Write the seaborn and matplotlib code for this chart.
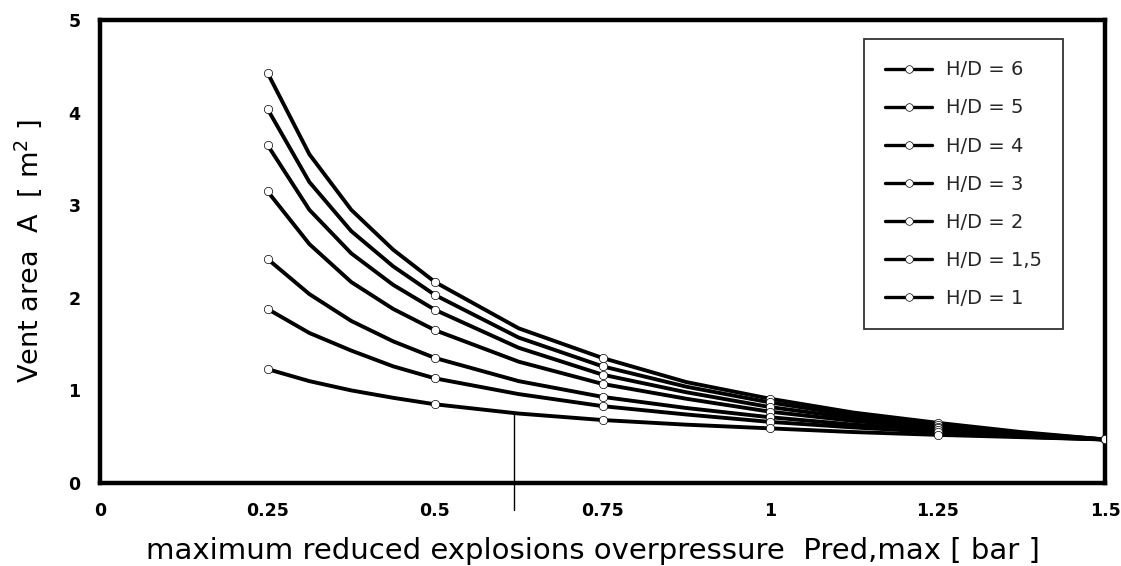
import matplotlib
matplotlib.use("Agg")
import matplotlib.pyplot as plt
import numpy as np
import pandas as pd
import seaborn as sns
from matplotlib.lines import Line2D

# ---------------- data ----------------
series_labels = ["H/D = 6", "H/D = 5", "H/D = 4", "H/D = 3", "H/D = 2", "H/D = 1,5", "H/D = 1"]

# measured points (marked with open circles)
point_pressure = [0.25, 0.5, 0.75, 1.0, 1.25, 1.5]
points_hd6 = [4.43, 2.17, 1.35, 0.91, 0.65, 0.47]
points_hd5 = [4.04, 2.03, 1.26, 0.87, 0.63, 0.47]
points_hd4 = [3.65, 1.87, 1.17, 0.82, 0.61, 0.47]
points_hd3 = [3.15, 1.65, 1.07, 0.77, 0.59, 0.47]
points_hd2 = [2.42, 1.35, 0.93, 0.71, 0.57, 0.47]
points_hd15 = [1.88, 1.13, 0.83, 0.66, 0.55, 0.47]
points_hd1 = [1.23, 0.85, 0.68, 0.59, 0.52, 0.47]

# curve traces
curve_pressure = [0.25, 0.3125, 0.375, 0.4375, 0.5, 0.625, 0.75, 0.875, 1.0, 1.125, 1.25, 1.375, 1.5]
curve_hd6 = [4.43, 3.55, 2.95, 2.52, 2.17, 1.67, 1.35, 1.09, 0.91, 0.76, 0.65, 0.55, 0.47]
curve_hd5 = [4.04, 3.25, 2.72, 2.34, 2.03, 1.57, 1.26, 1.04, 0.87, 0.73, 0.63, 0.54, 0.47]
curve_hd4 = [3.65, 2.95, 2.48, 2.14, 1.87, 1.46, 1.17, 0.98, 0.82, 0.70, 0.61, 0.53, 0.47]
curve_hd3 = [3.15, 2.58, 2.17, 1.88, 1.65, 1.31, 1.07, 0.91, 0.77, 0.67, 0.59, 0.52, 0.47]
curve_hd2 = [2.42, 2.04, 1.75, 1.53, 1.35, 1.10, 0.93, 0.81, 0.71, 0.63, 0.57, 0.51, 0.47]
curve_hd15 = [1.88, 1.62, 1.43, 1.26, 1.13, 0.96, 0.83, 0.74, 0.66, 0.60, 0.55, 0.50, 0.47]
curve_hd1 = [1.23, 1.10, 1.00, 0.92, 0.85, 0.75, 0.68, 0.63, 0.59, 0.55, 0.52, 0.495, 0.47]

# stray pencil line on the original scan
guide_x = [0.618, 0.618]
guide_y = [-0.29, 0.74]

x_ticks = [0, 0.25, 0.5, 0.75, 1, 1.25, 1.5]
x_ticklabels = ["0", "0.25", "0.5", "0.75", "1", "1.25", "1.5"]
y_ticks = [0, 1, 2, 3, 4, 5]
y_ticklabels = ["0", "1", "2", "3", "4", "5"]
x_label = "maximum reduced explosions overpressure  Pred,max [ bar ]"
y_label = "Vent area  A  [ m$^2$ ]"

# ---------------- tables ----------------
point_sets = [points_hd6, points_hd5, points_hd4, points_hd3, points_hd2, points_hd15, points_hd1]
curve_sets = [curve_hd6, curve_hd5, curve_hd4, curve_hd3, curve_hd2, curve_hd15, curve_hd1]

df_points = pd.concat(
    [pd.DataFrame({"pressure": point_pressure, "area": v, "series": s})
     for s, v in zip(series_labels, point_sets)], ignore_index=True)
df_curves = pd.concat(
    [pd.DataFrame({"pressure": curve_pressure, "area": v, "series": s})
     for s, v in zip(series_labels, curve_sets)], ignore_index=True)

# ---------------- style ----------------
sns.set_theme(style="white")
plt.rcParams["font.family"] = ["DejaVu Sans"]
plt.rcParams["mathtext.default"] = "regular"

W, H, DPI = 1121, 566, 100
fig = plt.figure(figsize=(W / DPI, H / DPI), dpi=DPI)
ax = fig.add_axes([100 / W, 1 - 483 / H, 1005 / W, 463 / H])

sns.lineplot(data=df_curves, x="pressure", y="area", units="series", estimator=None,
             color="black", lw=2.8, legend=False, sort=True, ax=ax, zorder=2)
sns.scatterplot(data=df_points, x="pressure", y="area", color="white",
                edgecolor="black", linewidth=0.5, s=36, legend=False, ax=ax, zorder=3)

ax.plot(guide_x, guide_y, color="black", lw=1.0, clip_on=False, zorder=1)

ax.set_xlim(0, 1.5)
ax.set_ylim(0, 5)
ax.set_xticks(x_ticks)
ax.set_xticklabels(x_ticklabels, fontweight="bold")
ax.set_yticks(y_ticks)
ax.set_yticklabels(y_ticklabels, fontweight="bold")
ax.tick_params(axis="both", direction="in", length=6, width=2, color="black",
               labelsize=12.5, pad=14, labelcolor="black")
ax.tick_params(axis="x", top=False)
ax.tick_params(axis="y", right=False)

for sp in ax.spines.values():
    sp.set_visible(True)
    sp.set_color("black")
    sp.set_linewidth(3.2)

ax.set_xlabel(x_label, fontsize=21, color="black")
ax.xaxis.label.set_va("baseline")
ax.xaxis.set_label_coords(0.49, (7 - 83) / 463)
ax.set_ylabel(y_label, fontsize=19.5, color="black")
ax.yaxis.label.set_va("center")
ax.yaxis.set_label_coords((28 - 100) / 1005, 0.5)

handles = [Line2D([0], [0], color="black", lw=2.4, marker="o", markersize=5.5,
                  markerfacecolor="white", markeredgecolor="black", markeredgewidth=0.5)
           for _ in series_labels]
leg = ax.legend(handles, series_labels, loc="upper right",
                bbox_to_anchor=(1063 / W, 1 - 39 / H), bbox_transform=fig.transFigure,
                borderaxespad=0, fontsize=14, frameon=True, fancybox=False,
                handlelength=2.4, handletextpad=0.7, labelspacing=0.98,
                borderpad=1.1, numpoints=1)
leg.get_frame().set_edgecolor("black")
leg.get_frame().set_linewidth(1.3)
leg.get_frame().set_facecolor("white")

fig.savefig("out.png", dpi=DPI)
